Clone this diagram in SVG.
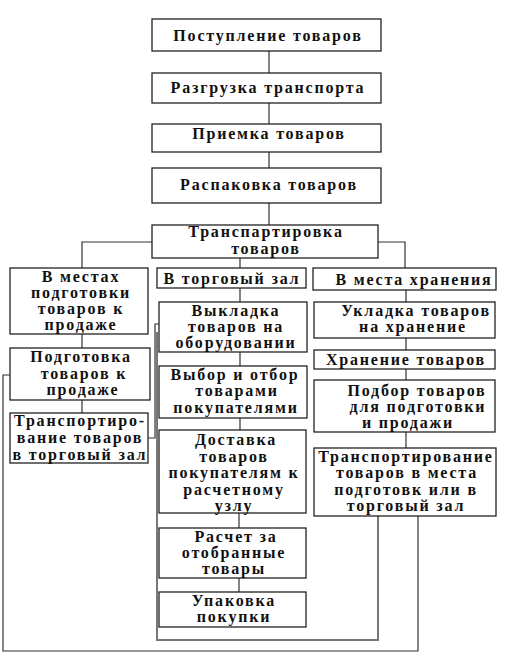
<svg xmlns="http://www.w3.org/2000/svg" width="514" height="670" viewBox="0 0 514 670">
<style>
.b{fill:#fff;stroke:#222;stroke-width:1.3}
.t{font-family:"Liberation Serif","Times New Roman",serif;font-size:16px;font-weight:bold;letter-spacing:1.8px;fill:#111;text-anchor:middle}
.c{fill:none;stroke:#333;stroke-width:1.2}
.g{fill:none;stroke:#777;stroke-width:2}
</style>
<rect width="514" height="670" fill="#fff"/>
<g id="connectors">
<path class="c" d="M269 51V73M269 103V124M269 152V168M269 203V225"/>
<path class="c" d="M152 242H82V268M378 242H405V268M240 258V268"/>
<path class="c" d="M82 334V348M82 400V413"/>
<path class="c" d="M240 288V302M240 352V366M240 418V430M239 513V528M239 578V592"/>
<path class="c" d="M406 290V302M406 338V350M406 369V380M406 432V448"/>
<path class="c" d="M148 438H155V324H159"/>
<path class="g" d="M378 516V640H157V332"/>
<path class="c" d="M418 516V651H3V375H10"/>
</g>
<g id="n1"><rect class="b" x="152" y="19" width="229" height="32"/><text class="t" x="268" y="41">Поступление товаров</text></g>
<g id="n2"><rect class="b" x="152" y="73" width="229" height="30"/><text class="t" x="268" y="93">Разгрузка транспорта</text></g>
<g id="n3"><rect class="b" x="152" y="124" width="229" height="28"/><text class="t" x="269" y="139">Приемка товаров</text></g>
<g id="n4"><rect class="b" x="152" y="168" width="229" height="35"/><text class="t" x="269" y="190">Распаковка товаров</text></g>
<g id="n5"><rect class="b" x="152" y="225" width="226" height="33"/><text class="t" x="266" y="237">Транспартировка</text><text class="t" x="266" y="253.5">товаров</text></g>
<g id="n6"><rect class="b" x="10" y="268" width="138" height="66"/><text class="t" x="81" y="282">В местах</text><text class="t" x="81" y="298">подготовки</text><text class="t" x="81" y="314">товаров к</text><text class="t" x="81" y="330">продаже</text></g>
<g id="n7"><rect class="b" x="157" y="268" width="149" height="20"/><text class="t" x="232" y="284">В торговый зал</text></g>
<g id="n8"><rect class="b" x="313" y="268" width="183" height="22"/><text class="t" x="414" y="285">В места хранения</text></g>
<g id="n9"><rect class="b" x="159" y="302" width="148" height="50"/><text class="t" x="236" y="316">Выкладка</text><text class="t" x="236" y="332">товаров на</text><text class="t" x="236" y="348">оборудовании</text></g>
<g id="n10"><rect class="b" x="314" y="302" width="181" height="36"/><text class="t" x="416" y="316">Укладка товаров</text><text class="t" x="413" y="332">на хранение</text></g>
<g id="n11"><rect class="b" x="10" y="348" width="140" height="52"/><text class="t" x="81" y="362">Подготовка</text><text class="t" x="84" y="379">товаров к</text><text class="t" x="83" y="395">продаже</text></g>
<g id="n12"><rect class="b" x="314" y="350" width="181" height="19"/><text class="t" x="406" y="365">Хранение товаров</text></g>
<g id="n13"><rect class="b" x="159" y="366" width="148" height="52"/><text class="t" x="235" y="380">Выбор и отбор</text><text class="t" x="237" y="396">товарами</text><text class="t" x="236" y="413">покупателями</text></g>
<g id="n14"><rect class="b" x="314" y="380" width="181" height="52"/><text class="t" x="417" y="396">Подбор товаров</text><text class="t" x="418" y="412">для подготовки</text><text class="t" x="408" y="428">и продажи</text></g>
<g id="n15"><rect class="b" x="10" y="413" width="138" height="50"/><text class="t" x="80" y="426">Транспортиро-</text><text class="t" x="80" y="443">вание товаров</text><text class="t" x="80" y="460">в торговый зал</text></g>
<g id="n16"><rect class="b" x="159" y="430" width="147" height="83"/><text class="t" x="236" y="445">Доставка</text><text class="t" x="234" y="462">товаров</text><text class="t" x="234" y="478">покупателям к</text><text class="t" x="234" y="495">расчетному</text><text class="t" x="234" y="511">узлу</text></g>
<g id="n17"><rect class="b" x="314" y="448" width="182" height="68"/><text class="t" x="406" y="462">Транспортирование</text><text class="t" x="407" y="478">товаров в места</text><text class="t" x="406" y="495">подготовк или в</text><text class="t" x="406" y="511">торговый зал</text></g>
<g id="n18"><rect class="b" x="159" y="528" width="147" height="50"/><text class="t" x="236" y="542">Расчет за</text><text class="t" x="234" y="558">отобранные</text><text class="t" x="234" y="574">товары</text></g>
<g id="n19"><rect class="b" x="159" y="592" width="147" height="35"/><text class="t" x="234" y="606">Упаковка</text><text class="t" x="234" y="622">покупки</text></g>
</svg>
